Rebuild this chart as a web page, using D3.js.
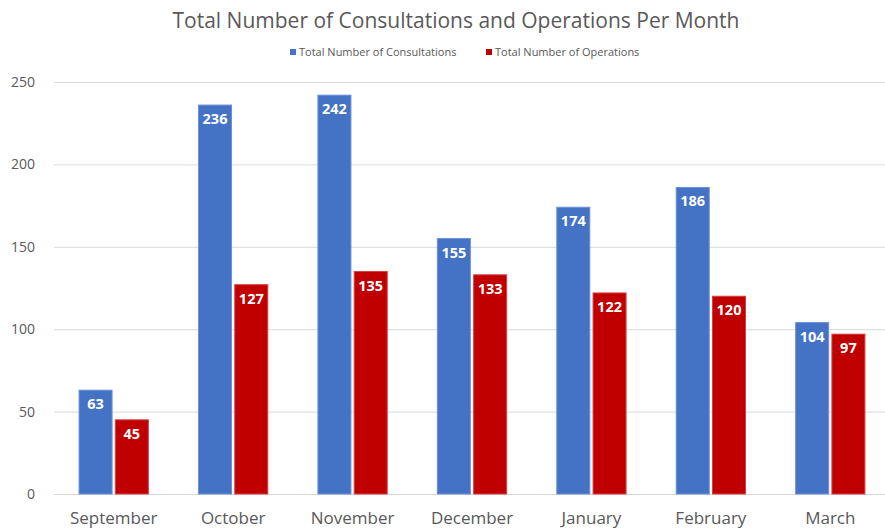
<!DOCTYPE html>
<html>
<head>
<meta charset="utf-8">
<script src="https://cdn.jsdelivr.net/npm/d3@7"></script>
<style>
  body { margin: 0; background: #fff; }
  text { font-family: "Open Sans", "Noto Sans", sans-serif; }
  .grid line { stroke: #d9d9d9; stroke-width: 1; }
  .grid path { display: none; }
  .axis path, .axis line { display: none; }
  .axis text { fill: #595959; }
</style>
</head>
<body>
<script>
var months = ["September", "October", "November", "December", "January", "February", "March"];
var consultations = [63, 236, 242, 155, 174, 186, 104];
var operations = [45, 127, 135, 133, 122, 120, 97];
var seriesNames = ["Total Number of Consultations", "Total Number of Operations"];
var yTicks = [0, 50, 100, 150, 200, 250];

var colors = ["#4472C4", "#C00000"];
var strokes = ["#6a90d6", "#d64040"];

var W = 885, H = 529;
var margin = {top: 82, right: -5, bottom: 35, left: 54};
var width = W - margin.left - margin.right,
    height = H - margin.top - margin.bottom;

var svg = d3.select("body").append("svg")
    .attr("width", W)
    .attr("height", H);

var g = svg.append("g")
    .attr("transform", "translate(" + margin.left + "," + margin.top + ")");

var x0 = d3.scaleBand()
    .domain(months)
    .range([0, width])
    .paddingInner(0.42)
    .paddingOuter(0.21);

var x1 = d3.scaleBand()
    .domain([0, 1])
    .range([0, x0.bandwidth()])
    .paddingInner(0.09);

var y = d3.scaleLinear()
    .domain([0, 250])
    .range([height, 0]);

// gridlines
g.append("g")
    .attr("class", "grid")
    .call(d3.axisLeft(y).tickValues(yTicks).tickSize(-(W - margin.left)).tickFormat(""));

// y axis labels
g.append("g")
    .attr("class", "axis")
    .attr("transform", "translate(-16,0)")
    .call(d3.axisLeft(y).tickValues(yTicks).tickSize(0))
    .selectAll("text")
    .style("font-size", "14px");

// x axis labels
g.append("g")
    .attr("class", "axis")
    .attr("transform", "translate(0," + height + ")")
    .call(d3.axisBottom(x0).tickSize(0).tickPadding(18))
    .selectAll("text")
    .style("font-size", "17px");

var data = months.map(function(m, i) {
    return {month: m, values: [consultations[i], operations[i]]};
});

var groups = g.selectAll(".group")
    .data(data)
    .enter()
    .append("g")
    .attr("class", "group")
    .attr("transform", function(d) { return "translate(" + x0(d.month) + ",0)"; });

groups.selectAll("rect")
    .data(function(d) { return d.values.map(function(v, i) { return {v: v, i: i}; }); })
    .enter()
    .append("rect")
    .attr("x", function(d) { return x1(d.i); })
    .attr("y", function(d) { return y(d.v); })
    .attr("width", x1.bandwidth())
    .attr("height", function(d) { return height - y(d.v); })
    .attr("fill", function(d) { return colors[d.i]; })
    .attr("stroke", function(d) { return strokes[d.i]; })
    .attr("stroke-width", 1);

groups.selectAll(".val")
    .data(function(d) { return d.values.map(function(v, i) { return {v: v, i: i}; }); })
    .enter()
    .append("text")
    .attr("class", "val")
    .attr("x", function(d) { return x1(d.i) + x1.bandwidth() / 2; })
    .attr("y", function(d) { return y(d.v) + 19; })
    .attr("text-anchor", "middle")
    .attr("fill", "#fff")
    .style("font-size", "14.5px")
    .style("font-weight", "bold")
    .text(function(d) { return d.v; });

// title
svg.append("text")
    .attr("x", 456)
    .attr("y", 28)
    .attr("text-anchor", "middle")
    .attr("fill", "#595959")
    .style("font-size", "21px")
    .text("Total Number of Consultations and Operations Per Month");

// legend
var legendX = [290, 486];
var legend = svg.selectAll(".legend")
    .data(seriesNames)
    .enter()
    .append("g")
    .attr("class", "legend")
    .attr("transform", function(d, i) { return "translate(" + legendX[i] + ",52)"; });

legend.append("rect")
    .attr("x", 0)
    .attr("y", -3)
    .attr("width", 6)
    .attr("height", 6)
    .attr("fill", function(d, i) { return colors[i]; });

legend.append("text")
    .attr("x", 9)
    .attr("y", 4)
    .attr("fill", "#595959")
    .style("font-size", "11px")
    .text(function(d) { return d; });
</script>
</body>
</html>
